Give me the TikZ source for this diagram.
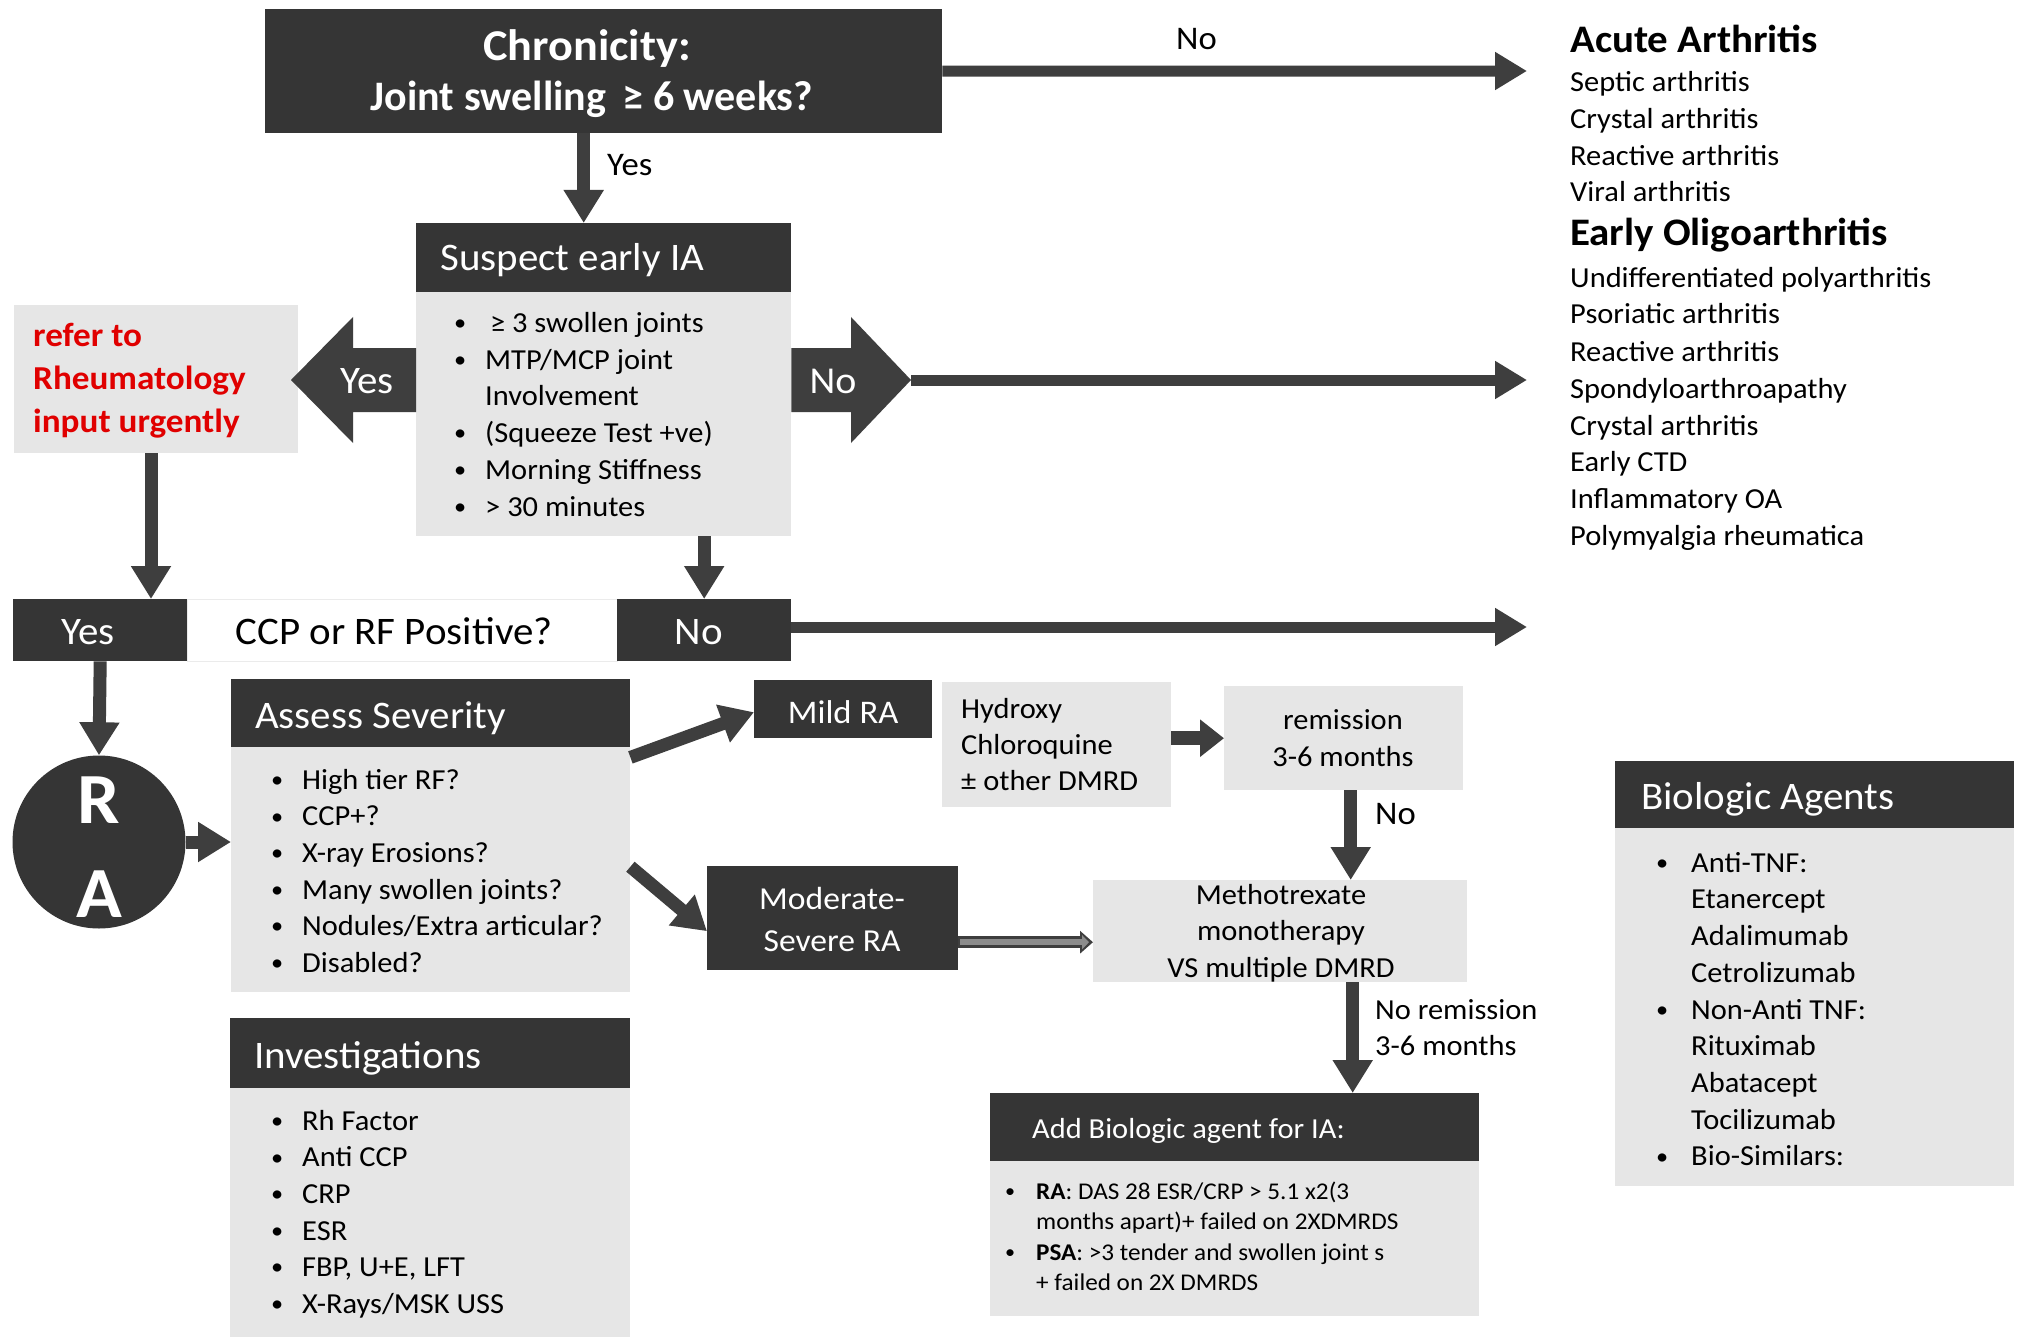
\documentclass[tikz,border=0pt]{standalone}
\usepackage{graphicx}
\usepackage{fontspec}
\setmainfont{Carlito}[FakeStretch=1.05]
\newfontfamily\plainfont{Carlito}
\usetikzlibrary{arrows.meta,calc}
\definecolor{hdrgray}{HTML}{353535}
\definecolor{boxgray}{HTML}{E6E6E6}
\definecolor{arrgray}{HTML}{3E3E3E}
\definecolor{urgred}{HTML}{E00000}
\newcommand{\fs}[1]{\fontsize{#1}{1.27\dimexpr #1pt\relax}\selectfont}
\newcommand{\dotb}{\raisebox{0.06em}{\scalebox{0.8}{\textbullet}}}
\newcommand{\bul}{\makebox[31pt][l]{\dotb}}
\tikzset{
  hdr/.style={fill=hdrgray, draw=none, inner sep=0, anchor=north west},
  lbox/.style={fill=boxgray, draw=none, inner sep=0, anchor=north west},
  txt/.style={inner sep=0, anchor=base west, font=\fs{29}},
  ctxt/.style={inner sep=0, anchor=base, font=\fs{29}},
  wtxt/.style={inner sep=0, anchor=base west, text=white, font=\fs{39}},
  arr/.style={draw=arrgray, line width=11pt, -{Triangle[length=32pt,width=36pt]}},
  varr/.style={draw=arrgray, line width=13pt, -{Triangle[length=33pt,width=38pt]}},
}
\begin{document}
\begin{tikzpicture}[x=1pt,y=-1pt]
\useasboundingbox[fill=white] (0,0) rectangle (2020,1337);

% ---------- boxes ----------
\node[hdr, minimum width=677pt, minimum height=124pt] (chron) at (265,9) {};
\node[hdr, minimum width=375pt, minimum height=69pt] (susH) at (416,223) {};
\node[lbox, minimum width=375pt, minimum height=244pt] (susB) at (416,292) {};
\node[lbox, minimum width=284pt, minimum height=148pt] (refer) at (14,305) {};
\node[hdr, minimum width=174pt, minimum height=62pt] (yesB) at (13,599) {};
\node[draw=black!8, fill=white, inner sep=0, anchor=north west, minimum width=430pt, minimum height=62pt] (ccp) at (187,599) {};
\node[hdr, minimum width=174pt, minimum height=62pt] (noB) at (617,599) {};
\node[circle, fill=hdrgray, inner sep=0, minimum size=173pt] (ra) at (99,842) {};
\node[hdr, minimum width=399pt, minimum height=68pt] (asH) at (231,679) {};
\node[lbox, minimum width=399pt, minimum height=245pt] (asB) at (231,747) {};
\node[hdr, minimum width=400pt, minimum height=70pt] (invH) at (230,1018) {};
\node[lbox, minimum width=400pt, minimum height=249pt] (invB) at (230,1088) {};
\node[hdr, minimum width=178pt, minimum height=58pt] (mild) at (754,680) {};
\node[lbox, minimum width=229pt, minimum height=125pt] (hyd) at (942,682) {};
\node[lbox, minimum width=239pt, minimum height=104pt] (rem) at (1224,686) {};
\node[hdr, minimum width=251pt, minimum height=104pt] (mod) at (707,866) {};
\node[lbox, minimum width=374pt, minimum height=102pt] (meth) at (1093,880) {};
\node[hdr, minimum width=489pt, minimum height=68pt] (addH) at (990,1093) {};
\node[lbox, minimum width=489pt, minimum height=155pt] (addB) at (990,1161) {};
\node[hdr, minimum width=399pt, minimum height=67pt] (bioH) at (1615,761) {};
\node[lbox, minimum width=399pt, minimum height=358pt] (bioB) at (1615,828) {};

% ---------- block arrows beside "Suspect early IA" ----------
\fill[arrgray] (susB.west |- 0,348) -- (353,348) -- (353,317) -- (291,380) -- (353,443) -- (353,412) -- (susB.west |- 0,412) -- cycle;
\fill[arrgray] (susB.east |- 0,348) -- (851,348) -- (851,317) -- (911,380) -- (851,443) -- (851,412) -- (susB.east |- 0,412) -- cycle;
\coordinate (noTip) at (911,380);

% ---------- connectors ----------
\coordinate (acuteIn) at (1527,71);
\coordinate (oligoIn) at (1527,380);
\coordinate (ccpIn) at (1527,627);
\draw[arr] (chron.east) -- (acuteIn);
\draw[arr] (noTip) -- (oligoIn);
\draw[arr] (noB.east |- ccpIn) -- (ccpIn);
\draw[varr] ([xshift=-20pt]chron.south) -- ([xshift=-20pt]susH.north);
\draw[varr] (refer.south -| 151,0) -- (yesB.north -| 151,0);
\draw[varr] (noB.north |- susB.south) -- (noB.north);
\draw[varr] (yesB.south) -- (ra.north);
\draw[varr] (ra.east) -- (asB.west |- ra.east);
\draw[varr] ([yshift=-10pt]asH.south east) -- ([yshift=-3pt]mild.west);
\draw[varr] ([yshift=3pt]asB.east) -- ([yshift=-13pt]mod.west);
\draw[arr, line width=14pt, -{Triangle[length=24pt,width=36pt]}] (hyd.east |- rem.west) -- (rem.west);
\draw[varr] ([xshift=7pt]rem.south) -- ([xshift=7pt]rem.south |- meth.north);
\draw[varr] ([xshift=9pt]rem.south |- meth.south) -- ([xshift=9pt]rem.south |- addH.north);
% hollow arrow
\draw[draw=arrgray, line width=12pt, -{Triangle[length=13pt,width=22pt]}] ([yshift=-24pt]mod.east) -- ([yshift=-24pt]mod.east -| meth.west);
\draw[draw=black!45, line width=6pt, shorten <=2pt, shorten >=4pt, -{Triangle[length=7pt,width=14pt]}] ([yshift=-24pt]mod.east) -- ([yshift=-24pt]mod.east -| meth.west);

% ---------- texts ----------
\node[ctxt, text=white, font=\bfseries\fs{44}] (chT1) at (587,61) {Chronicity:};
\node[ctxt, text=white, font=\plainfont\bfseries\fs{42}] (chT2) at (592,111) {Joint swelling \,≥ 6 weeks?};
\node[txt, font=\fs{33}] (yesL) at (607,176) {Yes};
\node[txt, font=\fs{33}] (noL) at (1176,50) {No};

\node[wtxt] (susT) at (440,271) {Suspect early IA};
\node[txt, anchor=north west, align=left, font=\fontsize{29}{36.8}\selectfont] (susL) at (454,332-25.76) {%
\strut\bul\,≥ 3 swollen joints\\
\strut\bul MTP/MCP joint\\
\strut\hspace*{31pt}Involvement\\
\strut\bul (Squeeze Test +ve)\\
\strut\bul Morning Stiffness\\
\strut\bul > 30 minutes};

\node[txt, anchor=north west, align=left, text=urgred, font=\bfseries\fontsize{33.5}{43}\selectfont] (refT) at (33,346-30.1) {%
\strut refer to\\ \strut Rheumatology\\ \strut input urgently};

\node[ctxt, text=white, font=\fs{39}] (yesArr) at (367,393) {Yes};
\node[ctxt, text=white, font=\fs{38}] (noArr) at (833,393) {No};

\node[ctxt, text=white, font=\fs{39}] (yesT) at (88,644) {Yes};
\node[ctxt, font=\fs{39}] (ccpT) at (394,644) {CCP or RF Positive?};
\node[ctxt, text=white, font=\fs{39}] (noT) at (699,644) {No};

\node[ctxt, text=white, font=\bfseries\fs{72}] (raR) at (ra.center |- 0,823) {R};
\node[ctxt, text=white, font=\bfseries\fs{72}] (raA) at (ra.center |- 0,917) {A};

\node[wtxt] (asT) at (255,728) {Assess Severity};
\node[txt, anchor=north west, align=left, font=\fontsize{29}{36.6}\selectfont] (asL) at (271,789-25.62) {%
\strut\bul High tier RF?\\
\strut\bul CCP+?\\
\strut\bul X-ray Erosions?\\
\strut\bul Many swollen joints?\\
\strut\bul Nodules/Extra articular?\\
\strut\bul Disabled?};

\node[wtxt] (invT) at (254,1068) {Investigations};
\node[txt, anchor=north west, align=left, font=\fontsize{29}{36.6}\selectfont] (invL) at (271,1130-25.62) {%
\strut\bul Rh Factor\\
\strut\bul Anti CCP\\
\strut\bul CRP\\
\strut\bul ESR\\
\strut\bul FBP, U+E, LFT\\
\strut\bul X-Rays/MSK USS};

\node[ctxt, text=white, font=\fs{33}] (mildT) at (mild.center |- 0,723) {Mild RA};
\node[txt, anchor=north west, align=left, font=\fontsize{29}{36}\selectfont] (hydT) at (961,718-25.2) {%
\strut Hydroxy\\ \strut Chloroquine\\ \strut ± other DMRD};
\node[txt, anchor=north, align=center, font=\fontsize{29}{37}\selectfont] (remT) at (1343,729-25.9) {%
\strut remission\\ \strut 3-6 months};
\node[txt, anchor=north, align=center, text=white, font=\fontsize{32}{42}\selectfont] (modT) at (832,909-29.4) {%
\strut Moderate-\\ \strut Severe RA};
\node[txt, anchor=north, align=center, font=\fontsize{29}{36.5}\selectfont] (methT) at (1281,904-25.55) {%
\strut Methotrexate\\ \strut monotherapy\\ \strut VS multiple DMRD};
\node[txt, font=\fs{33}] (noRem) at (1375,824) {No};
\node[txt, anchor=north west, align=left, font=\fontsize{29}{36}\selectfont] (noRemT) at (1375,1019-25.2) {%
\strut No remission\\ \strut 3-6 months};

\node[txt, text=white, font=\fs{29}] (addT) at (1032,1138) {Add Biologic agent for IA:};
\node[txt, anchor=north west, align=left, font=\fontsize{24}{30.5}\selectfont] (addL) at (1005,1199-21.35) {%
\strut\makebox[31pt][l]{\dotb}\textbf{RA}: DAS 28 ESR/CRP > 5.1 x2(3\\
\strut\hspace*{31pt}months apart)+ failed on 2XDMRDS\\
\strut\makebox[31pt][l]{\dotb}\textbf{PSA}: >3 tender and swollen joint s\\
\strut\hspace*{31pt}+ failed on 2X DMRDS};

\node[wtxt] (bioT) at (1641,809) {Biologic Agents};
\node[txt, anchor=north west, align=left, font=\fontsize{29}{36.7}\selectfont] (bioL) at (1656,872-25.69) {%
\strut\makebox[35pt][l]{\dotb}Anti-TNF:\\
\strut\hspace*{35pt}Etanercept\\
\strut\hspace*{35pt}Adalimumab\\
\strut\hspace*{35pt}Cetrolizumab\\
\strut\makebox[35pt][l]{\dotb}Non-Anti TNF:\\
\strut\hspace*{35pt}Rituximab\\
\strut\hspace*{35pt}Abatacept\\
\strut\hspace*{35pt}Tocilizumab\\
\strut\makebox[35pt][l]{\dotb}Bio-Similars:};

% ---------- right-hand lists ----------
\node[txt, font=\bfseries\fs{39}] (acuteH) at (1570,53) {Acute Arthritis};
\foreach \t/\y [count=\i] in {Septic arthritis/92, Crystal arthritis/129, Reactive arthritis/166, Viral arthritis/202}
  \node[txt] (ac\i) at (1570,\y) {\t};
\node[txt, font=\bfseries\fs{39}] (oligoH) at (1570,246) {Early Oligoarthritis};
\foreach \t/\y [count=\i] in {Undifferentiated polyarthritis/288, Psoriatic arthritis/324, Reactive arthritis/361, Spondyloarthroapathy/398, Crystal arthritis/435, Early CTD/471, Inflammatory OA/508, Polymyalgia rheumatica/545}
  \node[txt] (ol\i) at (1570,\y) {\t};
\end{tikzpicture}
\end{document}
